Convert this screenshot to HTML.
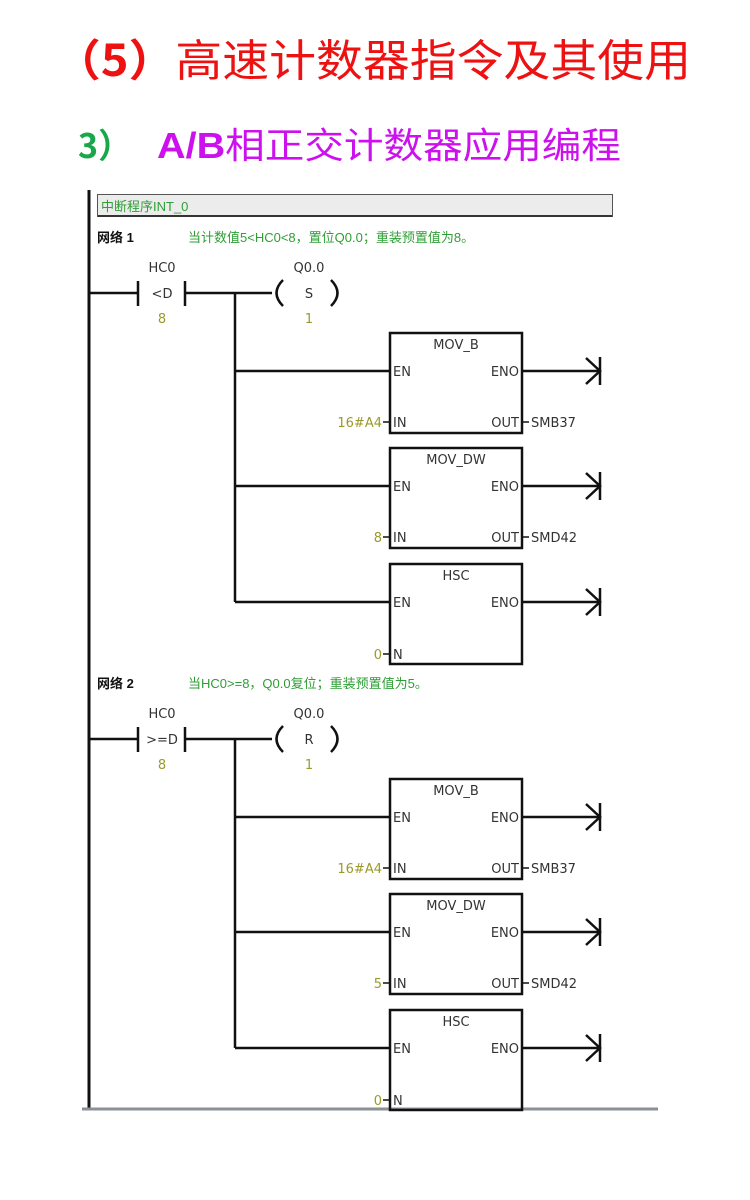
<!DOCTYPE html>
<html><head><meta charset="utf-8">
<style>
html,body{margin:0;padding:0;background:#fff;}
body{width:750px;height:1200px;overflow:hidden;}
svg{display:block;}
.t{font-family:"Liberation Sans","Noto Sans CJK SC",sans-serif;}
.c{font-family:"Noto Sans CJK SC","Liberation Sans",sans-serif;}
.s{font-family:"DejaVu Sans","Noto Sans CJK SC",sans-serif;font-size:13px;fill:#333;}
.g{fill:#2e9e35;font-family:"Liberation Sans","Noto Sans CJK SC",sans-serif;font-size:13px;}
.o{fill:#9a9a28;font-family:"DejaVu Sans",sans-serif;font-size:13px;}
.k{stroke:#111;stroke-width:2.5;fill:none;}
</style></head><body>
<svg width="750" height="1200" viewBox="0 0 750 1200" xmlns="http://www.w3.org/2000/svg">
<defs>
<g id="blk">
  <line class="k" x1="235" y1="0" x2="390" y2="0"/>
  <line class="k" x1="522" y1="0" x2="600" y2="0"/>
  <polyline class="k" points="586,-13 600,0 586,13"/>
  <line class="k" x1="600" y1="-14" x2="600" y2="14"/>
  <rect class="k" x="390" y="-38" width="132" height="100"/>
  <text class="s" x="393" y="5">EN</text>
  <text class="s" x="519" y="5" text-anchor="end">ENO</text>
</g>
<g id="net">
  <line class="k" x1="89" y1="293" x2="138" y2="293"/>
  <line class="k" x1="138" y1="281" x2="138" y2="306"/>
  <line class="k" x1="185" y1="281" x2="185" y2="306"/>
  <line class="k" x1="185" y1="293" x2="272" y2="293"/>
  <path class="k" d="M283 280 Q270 293 283 306"/>
  <path class="k" d="M331 280 Q344 293 331 306"/>
  <line class="k" x1="235" y1="293" x2="235" y2="602"/>
  <text class="s" x="162" y="272" text-anchor="middle">HC0</text>
  <text class="s" x="309" y="272" text-anchor="middle">Q0.0</text>
  <text class="o" x="162" y="323" text-anchor="middle">8</text>
  <text class="o" x="309" y="323" text-anchor="middle">1</text>
  <use href="#blk" y="371"/>
  <use href="#blk" y="486"/>
  <use href="#blk" y="602"/>
  <text class="s" x="456" y="349" text-anchor="middle">MOV_B</text>
  <text class="s" x="456" y="464" text-anchor="middle">MOV_DW</text>
  <text class="s" x="456" y="580" text-anchor="middle">HSC</text>
  <text class="s" x="393" y="427">IN</text>
  <text class="s" x="519" y="427" text-anchor="end">OUT</text>
  <line stroke="#111" stroke-width="1.5" x1="383" y1="422" x2="390" y2="422"/>
  <line stroke="#111" stroke-width="1.5" x1="522" y1="422" x2="529" y2="422"/>
  <text class="s" x="531" y="427">SMB37</text>
  <text class="o" x="382" y="427" text-anchor="end">16#A4</text>
  <text class="s" x="393" y="542">IN</text>
  <text class="s" x="519" y="542" text-anchor="end">OUT</text>
  <line stroke="#111" stroke-width="1.5" x1="383" y1="537" x2="390" y2="537"/>
  <line stroke="#111" stroke-width="1.5" x1="522" y1="537" x2="529" y2="537"/>
  <text class="s" x="531" y="542">SMD42</text>
  <text class="s" x="393" y="659">N</text>
  <line stroke="#111" stroke-width="1.5" x1="383" y1="654" x2="390" y2="654"/>
  <text class="o" x="382" y="659" text-anchor="end">0</text>
</g>
</defs>

<text x="54" y="76" class="c" style="font-size:44px;fill:#ee1111" textLength="637" lengthAdjust="spacingAndGlyphs"><tspan style="font-weight:bold">（5）</tspan>高速计数器指令及其使用</text>
<text x="78" y="158" class="c" style="font-size:34px;font-weight:bold;fill:#18a84a">3）</text>
<text x="157" y="158" class="t" style="font-size:36px;fill:#cc11ee" textLength="464" lengthAdjust="spacingAndGlyphs"><tspan style="font-weight:bold">A/B</tspan>相正交计数器应用编程</text>

<line x1="89" y1="190" x2="89" y2="1108" stroke="#111" stroke-width="3"/>
<line x1="82" y1="1109" x2="658" y2="1109" stroke="#8a9096" stroke-width="3"/>
<rect x="97.5" y="194.5" width="515" height="22" fill="#ececec" stroke="#555" stroke-width="1"/>
<line x1="98" y1="216" x2="612" y2="216" stroke="#333" stroke-width="2"/>
<text class="g" x="101" y="211">中断程序INT_0</text>

<use href="#net"/>
<text x="97" y="242" class="t" style="font-size:13px;font-weight:bold;fill:#111">网络 1</text>
<text class="g" x="188" y="242">当计数值5&lt;HC0&lt;8，置位Q0.0；重装预置值为8。</text>
<text class="s" x="162" y="298" text-anchor="middle">&lt;D</text>
<text class="s" x="309" y="298" text-anchor="middle">S</text>
<text class="o" x="382" y="542" text-anchor="end">8</text>

<g transform="translate(0,446)">
  <use href="#net"/>
  <text x="97" y="242" class="t" style="font-size:13px;font-weight:bold;fill:#111">网络 2</text>
  <text class="g" x="188" y="242">当HC0&gt;=8，Q0.0复位；重装预置值为5。</text>
  <text class="s" x="162" y="298" text-anchor="middle">&gt;=D</text>
  <text class="s" x="309" y="298" text-anchor="middle">R</text>
  <text class="o" x="382" y="542" text-anchor="end">5</text>
</g>
</svg>
</body></html>
